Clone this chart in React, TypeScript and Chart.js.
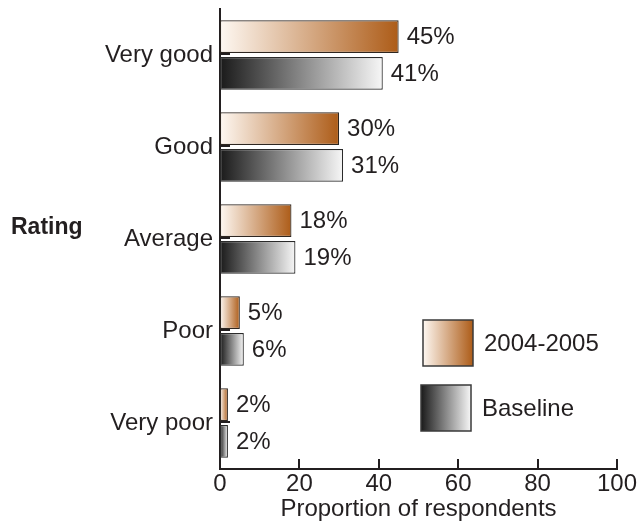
import { useEffect, useRef } from "react";
import { Chart, registerables } from "chart.js";

Chart.register(...registerables);

// Survey ratings, percent of respondents
const categories = ["Very good", "Good", "Average", "Poor", "Very poor"];
const series2004 = [45, 30, 18, 5, 2];
const seriesBaseline = [41, 31, 19, 6, 2];
const seriesNames = ["2004-2005", "Baseline"];
const xTickValues = [0, 20, 40, 60, 80, 100];

const FONT = "'Liberation Sans', Arial, Helvetica, sans-serif";
const FS = 24;
const INK = "#231f20";
const ORANGE_STOPS: [string, string] = ["#fef8f2", "#ad5c18"];
const GRAY_STOPS: [string, string] = ["#1a1a1a", "#f7f7f7"];

// Horizontal gradient running from the zero line to the end of each bar
function barGradient(stops: [string, string]) {
  return (c: any) => {
    const chart = c.chart;
    const xs = chart.scales && chart.scales.x;
    const v = typeof c.raw === "number" ? c.raw : null;
    if (!xs || v == null) return stops[1];
    const x0 = xs.getPixelForValue(0);
    const x1 = xs.getPixelForValue(v);
    if (!isFinite(x0) || !isFinite(x1) || x1 === x0) return stops[1];
    const g = chart.ctx.createLinearGradient(x0, 0, x1, 0);
    g.addColorStop(0, stops[0]);
    g.addColorStop(1, stops[1]);
    return g;
  };
}

const decorations = {
  id: "decorations",
  afterDatasetsDraw(chart: any) {
    const { ctx, chartArea, scales } = chart;
    const xs = scales.x;
    const ys = scales.y;
    ctx.save();

    // inward tick marks on the value axis
    ctx.strokeStyle = INK;
    ctx.lineWidth = 2;
    xTickValues.forEach((v) => {
      if (v === 0) return;
      const x = Math.round(xs.getPixelForValue(v));
      ctx.beginPath();
      ctx.moveTo(x, chartArea.bottom);
      ctx.lineTo(x, chartArea.bottom - 10);
      ctx.stroke();
    });
    // inward tick marks on the category axis
    categories.forEach((_, i) => {
      const y = Math.round(ys.getPixelForTick(i)) - 1;
      ctx.beginPath();
      ctx.moveTo(chartArea.left, y);
      ctx.lineTo(chartArea.left + 10, y);
      ctx.stroke();
    });

    // value labels
    ctx.fillStyle = INK;
    ctx.font = `${FS}px ${FONT}`;
    ctx.textAlign = "left";
    ctx.textBaseline = "middle";
    chart.data.datasets.forEach((ds: any, di: number) => {
      const meta = chart.getDatasetMeta(di);
      meta.data.forEach((el: any, i: number) => {
        ctx.fillText(`${ds.data[i]}%`, el.x + 8, el.y + 1);
      });
    });

    // category axis title
    ctx.font = `bold 23px ${FONT}`;
    ctx.textAlign = "left";
    ctx.fillText("Rating", 11, 228);

    // legend
    const legend = [
      { name: seriesNames[0], stops: ORANGE_STOPS, x: 423, y: 320 },
      { name: seriesNames[1], stops: GRAY_STOPS, x: 421, y: 385 },
    ];
    legend.forEach((item) => {
      const w = 50;
      const h = 46;
      const g = ctx.createLinearGradient(item.x, 0, item.x + w, 0);
      g.addColorStop(0, item.stops[0]);
      g.addColorStop(1, item.stops[1]);
      ctx.fillStyle = g;
      ctx.fillRect(item.x, item.y, w, h);
      ctx.strokeStyle = "#3a3a3a";
      ctx.lineWidth = 1.5;
      ctx.strokeRect(item.x, item.y, w, h);
      ctx.fillStyle = INK;
      ctx.font = `${FS}px ${FONT}`;
      ctx.textBaseline = "middle";
      ctx.fillText(item.name, item.x + 61, item.y + h / 2 + 1);
    });

    ctx.restore();
  },
};

export default function App() {
  const canvasRef = useRef<HTMLCanvasElement | null>(null);

  useEffect(() => {
    const canvas = canvasRef.current;
    if (!canvas) return;
    const chart = new Chart(canvas, {
      type: "bar",
      data: {
        labels: categories,
        datasets: [
          {
            label: seriesNames[0],
            data: series2004,
            backgroundColor: barGradient(ORANGE_STOPS),
            borderColor: "#2e2620",
            borderWidth: 1.2,
            borderSkipped: false,
            barPercentage: 0.89,
            categoryPercentage: 0.8,
          },
          {
            label: seriesNames[1],
            data: seriesBaseline,
            backgroundColor: barGradient(GRAY_STOPS),
            borderColor: "#2a2a2a",
            borderWidth: 1.2,
            borderSkipped: false,
            barPercentage: 0.89,
            categoryPercentage: 0.8,
          },
        ],
      },
      options: {
        indexAxis: "y",
        animation: false,
        responsive: true,
        maintainAspectRatio: false,
        layout: { padding: { top: 9, right: 22, left: 0, bottom: 0 } },
        plugins: {
          legend: { display: false },
          tooltip: { enabled: false },
        },
        scales: {
          x: {
            type: "linear",
            min: 0,
            max: 100,
            ticks: {
              stepSize: 20,
              color: INK,
              font: { family: FONT, size: FS },
              padding: 1,
              maxRotation: 0,
            },
            grid: { display: false, drawTicks: false },
            border: { display: true, color: INK, width: 2 },
            title: {
              display: true,
              text: "Proportion of respondents",
              color: INK,
              font: { family: FONT, size: FS, lineHeight: 1.1 },
              padding: { top: 0, bottom: 0 },
            },
            afterFit: (s: any) => {
              s.height = 54;
              s.paddingLeft = 0;
              s.paddingRight = 0;
            },
          },
          y: {
            type: "category",
            ticks: {
              color: INK,
              font: { family: FONT, size: FS },
              padding: 7,
            },
            grid: { display: false, drawTicks: false },
            border: { display: true, color: INK, width: 2 },
            afterFit: (s: any) => {
              s.width = 220;
              s.paddingTop = 0;
              s.paddingBottom = 0;
            },
          },
        },
      },
      plugins: [decorations],
    } as any);
    return () => chart.destroy();
  }, []);

  return (
    <div style={{ position: "absolute", left: 0, top: 0, width: 639, height: 523, background: "#fff" }}>
      <canvas ref={canvasRef} />
    </div>
  );
}
